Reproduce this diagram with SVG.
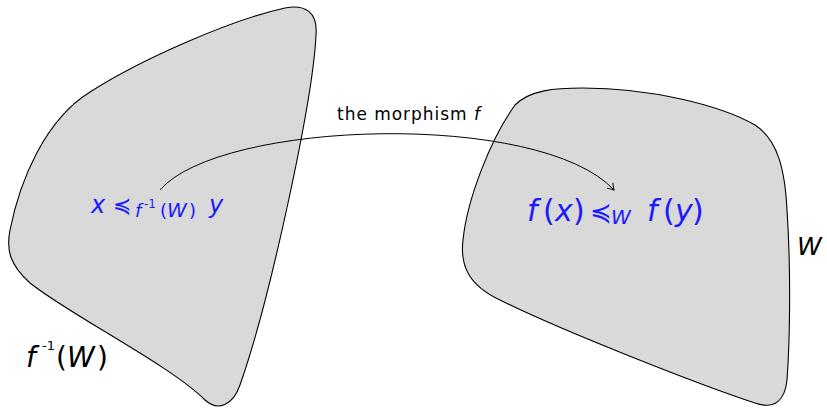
<svg xmlns="http://www.w3.org/2000/svg" width="827" height="408" viewBox="0 0 827 408">
<style>
.region{fill:#d9d9d9;stroke:#000;stroke-width:1.1}
.math{font-family:"DejaVu Sans","Liberation Sans",sans-serif;font-style:italic}
.up{font-style:normal}
.blue{fill:#1a1aff}
.conn{fill:none;stroke:#000;stroke-width:1}
</style>
<defs>
<marker id="to" markerWidth="12" markerHeight="12" refX="8" refY="6" orient="auto" markerUnits="userSpaceOnUse">
<path d="M2,2 Q6,5 8,6 Q6,7 2,10" fill="none" stroke="#000" stroke-width="1"/>
</marker>
</defs>
<g id="preimage">
<path class="region" d="M285,8 C305,4 318,12 316,35 C313,100 270,300 240,385 C233,405 218,412 205,400 C170,365 70,315 30,283 C10,265 6,250 10,230 C20,180 45,120 90,92 C140,60 230,20 285,8 Z"/>
<text class="math" y="367" font-size="28"><tspan x="26">f</tspan><tspan class="up" x="42" y="350" font-size="13">-1</tspan><tspan class="up" x="56" y="367">(</tspan><tspan x="67">W</tspan><tspan class="up" x="97">)</tspan></text>
</g>
<g id="W">
<path class="region" d="M583,88 C650,88 720,105 755,125 C778,140 785,170 787,210 C791,270 790,340 787,380 C785,400 775,410 755,403 C700,385 560,330 500,300 C468,285 460,265 463,240 C467,200 490,140 515,105 C530,90 555,88 583,88 Z"/>
<text class="math" x="797" y="255" font-size="25">W</text>
</g>
<g id="order-pre">
<text class="math blue" y="213" font-size="24"><tspan x="91">x</tspan><tspan class="up" x="113" font-size="22">≼</tspan><tspan x="135" y="217" font-size="18">f</tspan><tspan class="up" x="144" y="208" font-size="12">-1</tspan><tspan class="up" x="160" y="217" font-size="18">(</tspan><tspan x="167" font-size="20">W</tspan><tspan class="up" x="189" font-size="18">)</tspan><tspan x="209" y="213">y</tspan></text>
</g>
<g id="order-W">
<text class="math blue" y="221" font-size="30"><tspan x="527">f</tspan><tspan class="up" x="543">(</tspan><tspan x="555">x</tspan><tspan class="up" x="573">)</tspan><tspan class="up" x="590" font-size="26">≼</tspan><tspan x="611" y="224" font-size="20">W</tspan><tspan x="647" y="221">f</tspan><tspan class="up" x="663">(</tspan><tspan x="675">y</tspan><tspan class="up" x="692">)</tspan></text>
</g>
<g id="connectors">
<path class="conn" d="M160,190 C220,120 540,110 614,190" marker-end="url(#to)"/>
<text x="337" y="120" font-size="17" textLength="143" lengthAdjust="spacing" font-family="DejaVu Sans,Liberation Sans,sans-serif">the morphism <tspan font-style="italic">f</tspan></text>
</g>
</svg>
